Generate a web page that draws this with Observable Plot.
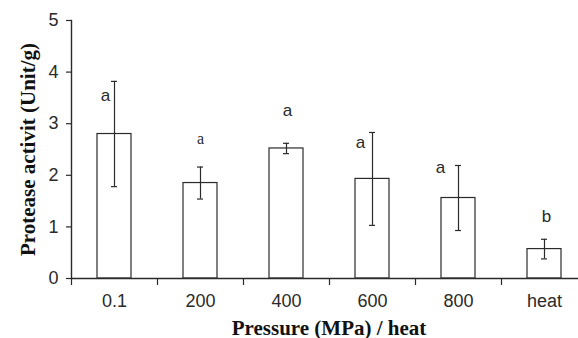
<!DOCTYPE html>
<html><head><meta charset="utf-8">
<script src="https://cdn.jsdelivr.net/npm/d3@7"></script>
<script src="https://cdn.jsdelivr.net/npm/@observablehq/plot@0.6"></script>
<style>body{margin:0;background:#fff}</style>
</head><body><div id="chart"></div>
<script>
const categories = ["0.1", "200", "400", "600", "800", "heat"];
const means = [2.80, 1.85, 2.52, 1.93, 1.56, 0.57];
const errors = [1.02, 0.31, 0.10, 0.90, 0.63, 0.19];
const letters = ["a", "a", "a", "a", "a", "b"];
const letterY = [3.55, 2.71, 3.26, 2.64, 2.15, 1.20];
const yTicks = [0, 1, 2, 3, 4, 5];
const xTitle = "Pressure (MPa) / heat";
const yTitle = "Protease activit (Unit/g)";

// layout / style (not data)
const letterDx = [-9, 0, 1, -12, -18, 2];
const letterSerif = [false, true, false, false, false, false];
const ink = "#2a2a2a";
const sans = "'Liberation Sans', Arial, sans-serif";
const serif = "'Liberation Serif', 'Times New Roman', serif";

const data = categories.map((c, i) => ({
  cat: c, mean: means[i], lo: means[i] - errors[i], hi: means[i] + errors[i],
  letter: letters[i], ly: letterY[i], i
}));

const letterMarks = data.map(d => Plot.text([d], {
  x: "cat", y: "ly", text: "letter", dx: letterDx[d.i],
  fontFamily: letterSerif[d.i] ? serif : sans,
  fontSize: letterSerif[d.i] ? 16 : 17, fill: ink, lineAnchor: "middle"
}));

const chart = Plot.plot({
  width: 578, height: 338,
  marginLeft: 71, marginRight: 0, marginTop: 20, marginBottom: 60,
  style: {background: "#fff", color: ink, overflow: "visible"},
  x: {type: "band", domain: categories, range: [71, 587], paddingInner: 0.6, paddingOuter: 0.3},
  y: {domain: [0, 5]},
  marks: [
    Plot.barY(data, {x: "cat", y: "mean", fill: "white", stroke: ink, strokeWidth: 1.2}),
    Plot.ruleX(data, {x: "cat", y1: "lo", y2: "hi", stroke: ink, strokeWidth: 1.2}),
    Plot.tickY(data, {x: "cat", y: "hi", inset: 14, stroke: ink, strokeWidth: 1.2}),
    Plot.tickY(data, {x: "cat", y: "lo", inset: 14, stroke: ink, strokeWidth: 1.2}),
    Plot.frame({anchor: "left", stroke: ink, strokeWidth: 1.4}),
    Plot.ruleY([0], {stroke: ink, strokeWidth: 1.4}),
    Plot.axisY({ticks: yTicks, tickFormat: "d", tickSize: 5, tickPadding: 8, fontSize: 18, fontFamily: sans, label: null, strokeWidth: 1.2}),
    Plot.axisX({tickSize: 7, text: null, dx: -43, label: null, strokeWidth: 1.2}),
    Plot.axisX({tickSize: 0, tickPadding: 16, fontSize: 18, fontFamily: sans, label: null}),
    ...letterMarks,
    Plot.text([xTitle], {frameAnchor: "bottom", dy: 56, dx: 4, lineAnchor: "bottom",
      fontFamily: serif, fontWeight: "bold", fontSize: 21, fill: "#111"}),
    Plot.text([yTitle], {frameAnchor: "left", dx: -43, rotate: -90, lineAnchor: "middle", textAnchor: "middle",
      fontFamily: serif, fontWeight: "bold", fontSize: 21, fill: "#111"})
  ]
});
document.getElementById("chart").appendChild(chart);
</script>
</body></html>
